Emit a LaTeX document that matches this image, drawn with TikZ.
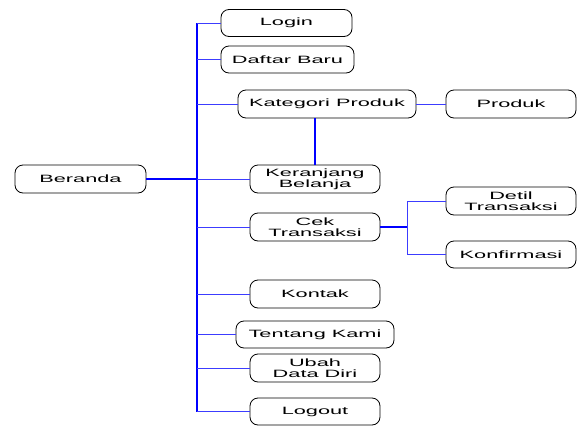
\documentclass[tikz,border=0pt]{standalone}
\usepackage{fontspec}
\setmainfont{Liberation Sans}[FakeStretch=2.05]
\begin{document}
\begin{tikzpicture}[x=1pt,y=-1pt,
  menu/.style={draw=black, line width=0.8pt, rounded corners=8pt, align=center,
    inner sep=0pt, font=\fontsize{10.6}{10.6}\selectfont},
  trunk/.style={draw={rgb,255:red,0;green,0;blue,255}, line width=1.4pt},
  branch/.style={draw={rgb,255:red,60;green,60;blue,255}, line width=0.9pt}]
\useasboundingbox (0,0) rectangle (582,426);
\node[menu, minimum width=131pt, minimum height=28pt] (beranda) at (80.5,179) {Beranda};
\node[menu, minimum width=131pt, minimum height=27pt] (login) at (286.5,23) {Login};
\node[menu, minimum width=133pt, minimum height=27pt] (daftar) at (287.5,59.5) {Daftar Baru};
\node[menu, minimum width=178pt, minimum height=28pt] (kat) at (327,104) {Kategori Produk};
\node[menu, minimum width=130pt, minimum height=28pt] (prod) at (511,104) {Produk};
\node[menu, minimum width=130pt, minimum height=28pt] (ker) at (315,179) {Keranjang\\Belanja};
\node[menu, minimum width=130pt, minimum height=28pt] (cek) at (315,227) {Cek\\Transaksi};
\node[menu, minimum width=130pt, minimum height=28pt] (det) at (511,201) {Detil\\Transaksi};
\node[menu, minimum width=130pt, minimum height=27pt] (konf) at (511,254.5) {Konfirmasi};
\node[menu, minimum width=130pt, minimum height=28pt] (kontak) at (315,294) {Kontak};
\node[menu, minimum width=158pt, minimum height=27pt] (tentang) at (315,334.5) {Tentang Kami};
\node[menu, minimum width=130pt, minimum height=28pt] (ubah) at (315,368) {Ubah\\Data Diri};
\node[menu, minimum width=130pt, minimum height=27pt] (logout) at (315,411.5) {Logout};
\coordinate (t) at (197,0);
\coordinate (c) at (407,0);
% trunk
\draw[trunk] (login.west -| t) -- (logout.west -| t);
\draw[trunk] (beranda.east) -- (beranda.east -| t);
% branches
\foreach \n in {login,daftar,kat,ker,cek,kontak,tentang,ubah,logout}
  \draw[branch] (\n.west) -- (\n.west -| t);
\draw[branch] (kat.east) -- (prod.west);
\draw[trunk] (ker.north) -- (ker.north |- kat.south);
\draw[trunk] (cek.east) -- (cek.east -| c);
\draw[branch] (det.west) -- (det.west -| c) -- (konf.west -| c) -- (konf.west);
\end{tikzpicture}
\end{document}
